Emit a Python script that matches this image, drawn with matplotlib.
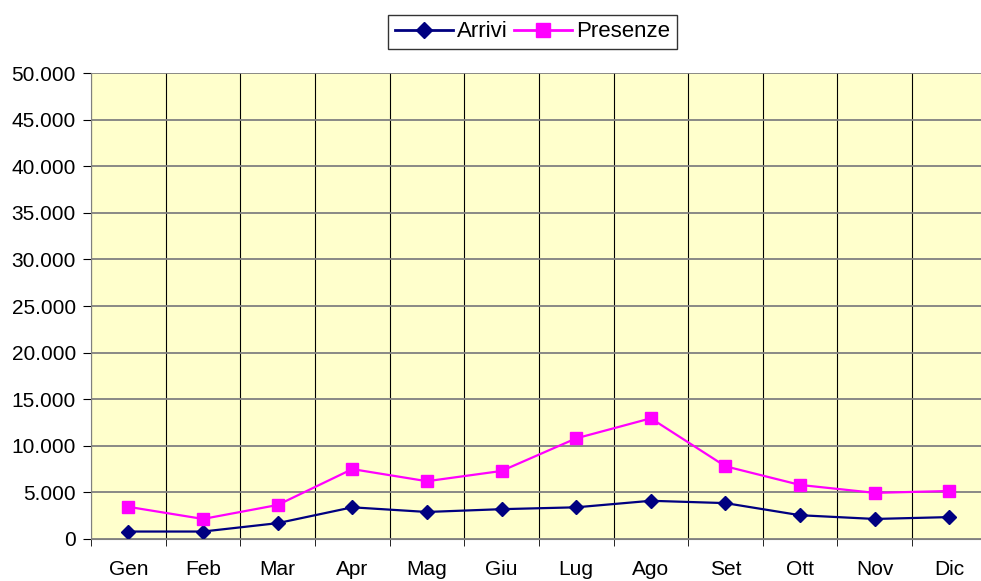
import matplotlib
matplotlib.use("Agg")
import matplotlib.pyplot as plt
from matplotlib.ticker import FuncFormatter, FixedLocator
import numpy as np

mesi = ["Gen", "Feb", "Mar", "Apr", "Mag", "Giu", "Lug", "Ago", "Set", "Ott", "Nov", "Dic"]
arrivi = [800, 800, 1700, 3400, 2900, 3200, 3400, 4100, 3850, 2550, 2150, 2350]
presenze = [3450, 2150, 3650, 7500, 6200, 7300, 10800, 12950, 7800, 5800, 4950, 5150]

plt.rcParams['font.family'] = ['Liberation Sans', 'DejaVu Sans']

fig = plt.figure(figsize=(9.81, 5.81), dpi=100)
ax = fig.add_axes([0.0928, 0.0723, 0.913, 0.802])
ax.set_facecolor('#FFFFCC')

x = np.arange(len(mesi))
ax.plot(x, arrivi, color='#000080', lw=1.6, marker='D', ms=7, label='Arrivi')
ax.plot(x, presenze, color='#FF00FF', lw=1.6, marker='s', ms=8, label='Presenze')

ax.set_xlim(-0.5, len(mesi) - 0.5)
ax.set_ylim(0, 50000)
ax.set_yticks(np.arange(0, 50001, 5000))
ax.yaxis.set_major_formatter(FuncFormatter(lambda v, p: f"{int(v):,}".replace(",", ".")))
ax.set_xticks(x)
ax.set_xticklabels(mesi)
ax.xaxis.set_minor_locator(FixedLocator(np.arange(-0.5, len(mesi), 1)))
ax.tick_params(axis='x', which='major', length=0, pad=15, labelsize=15)
ax.tick_params(axis='x', which='minor', length=5, color='black')
ax.tick_params(axis='y', length=6, pad=5, labelsize=15)

ax.grid(True, axis='y', which='major', color='#808080', lw=1.3)
ax.grid(True, axis='x', which='minor', color='black', lw=0.8)
ax.set_axisbelow(True)
for s in ['top', 'right']:
    ax.spines[s].set_visible(False)
ax.spines['left'].set_color('#808080')
ax.spines['bottom'].set_color('#808080')

leg = fig.legend(loc='center', bbox_to_anchor=(0.543, 0.945), ncol=2, fontsize=16,
                 frameon=True, fancybox=False, edgecolor='black', handlelength=2.6,
                 handletextpad=0.2, columnspacing=0.3, borderpad=0.3, markerscale=1.2)
leg.get_frame().set_linewidth(1.0)
for h in leg.get_lines():
    h.set_linewidth(2)

fig.savefig('out.png', dpi=100)
